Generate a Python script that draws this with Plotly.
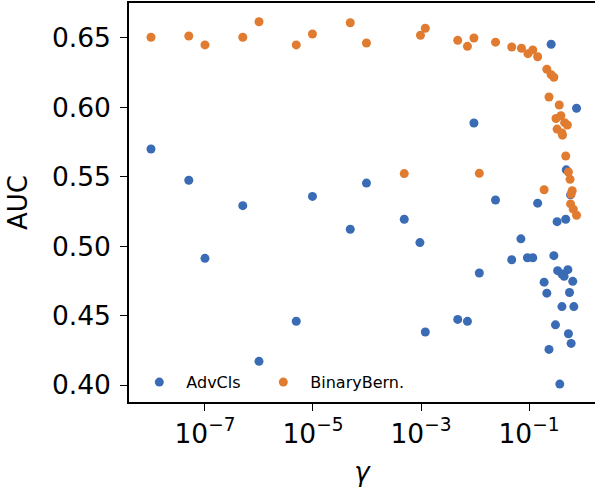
import numpy as np
import plotly.graph_objects as go

# log10(gamma) values and AUC for each series
adv_logx = [-8.0, -7.3, -7.0, -6.3, -6.0, -5.31, -5.01, -4.31, -4.01, -3.31, -3.02, -2.92,
            -2.32, -2.14, -2.02, -1.92, -1.62, -1.32, -1.15, -1.03, -0.93, -0.84, -0.72,
            -0.67, -0.63, -0.59, -0.54, -0.51, -0.48, -0.47, -0.43, -0.39, -0.39, -0.35,
            -0.32, -0.31, -0.28, -0.27, -0.25, -0.23, -0.22, -0.19, -0.17, -0.12]
adv_auc = [0.570, 0.5475, 0.4913, 0.5292, 0.4171, 0.446, 0.5359, 0.5122, 0.5455, 0.5194, 0.5026, 0.4382,
           0.4473, 0.4459, 0.5888, 0.4807, 0.5333, 0.4903, 0.5053, 0.4917, 0.4917, 0.531, 0.4741,
           0.4662, 0.4257, 0.6455, 0.4932, 0.4434, 0.5177, 0.4824, 0.4007, 0.480, 0.4565, 0.4783,
           0.5194, 0.555, 0.4831, 0.437, 0.4667, 0.537, 0.430, 0.4747, 0.4565, 0.5994]

bern_logx = [-8.0, -7.3, -7.0, -6.3, -6.0, -5.31, -5.01, -4.31, -4.01, -3.31, -3.01, -2.92,
             -2.32, -2.14, -2.02, -1.92, -1.62, -1.32, -1.14, -1.02, -0.93, -0.84, -0.72,
             -0.67, -0.63, -0.59, -0.54, -0.50, -0.48, -0.44, -0.41, -0.39, -0.38, -0.34,
             -0.32, -0.29, -0.27, -0.24, -0.23, -0.22, -0.20, -0.18, -0.12]
bern_auc = [0.6505, 0.6514, 0.645, 0.6505, 0.6617, 0.645, 0.6529, 0.661, 0.6464, 0.5523, 0.652, 0.657,
            0.6483, 0.644, 0.650, 0.5525, 0.647, 0.6435, 0.6426, 0.6387, 0.6414, 0.6365, 0.5407,
            0.6275, 0.6075, 0.6236, 0.6217, 0.592, 0.5844, 0.6017, 0.594, 0.5816, 0.580, 0.589,
            0.565, 0.5873, 0.5535, 0.5482, 0.5305, 0.5376, 0.540, 0.5267, 0.5223]

xtick_vals = [1e-7, 1e-5, 1e-3, 1e-1]
xtick_text = ["10<sup>\u22127</sup>", "10<sup>\u22125</sup>", "10<sup>\u22123</sup>", "10<sup>\u22121</sup>"]
ytick_vals = [0.40, 0.45, 0.50, 0.55, 0.60, 0.65]

BLUE = "#3a6bb5"
ORANGE = "#e07b30"

fig = go.Figure()
fig.add_trace(go.Scatter(x=np.power(10.0, adv_logx), y=adv_auc, mode="markers", name="AdvCls",
                         marker=dict(color=BLUE, size=9, line=dict(width=0)), legend="legend"))
fig.add_trace(go.Scatter(x=np.power(10.0, bern_logx), y=bern_auc, mode="markers", name="BinaryBern.",
                         marker=dict(color=ORANGE, size=9, line=dict(width=0)), legend="legend2"))

font_family = "DejaVu Sans"
leg_common = dict(orientation="h", yanchor="bottom", xanchor="left", y=0.007,
                  font=dict(size=16), bgcolor="rgba(0,0,0,0)", itemwidth=44)
fig.update_layout(
    width=595, height=489,
    margin=dict(l=129, r=0, t=3, b=87),
    plot_bgcolor="white", paper_bgcolor="white",
    font=dict(family=font_family, color="black"),
    showlegend=True,
    legend=dict(x=0.0071, **leg_common),
    legend2=dict(x=0.2732, **leg_common),
    xaxis=dict(type="log", range=[-8.407, 0.222], tickvals=xtick_vals, ticktext=xtick_text,
               showgrid=False, zeroline=False, showline=True, linecolor="black", linewidth=1.5,
               mirror=True, ticks="outside", ticklen=7, tickwidth=1.3, tickcolor="black",
               tickfont=dict(size=26.5),
               title=dict(text="<i>\u03b3</i>", font=dict(size=26), standoff=15)),
    yaxis=dict(range=[0.3878, 0.6752], tickvals=ytick_vals, tickformat=".2f",
               showgrid=False, zeroline=False, showline=True, linecolor="black", linewidth=1.5,
               ticks="outside", ticklen=7, tickwidth=1.3, tickcolor="black",
               tickfont=dict(size=26.5), ticklabelstandoff=4,
               title=dict(text="AUC", font=dict(size=26), standoff=17)),
)

fig.write_html("out.html", config={"displayModeBar": False},
               post_script="document.body.style.margin='0';")
